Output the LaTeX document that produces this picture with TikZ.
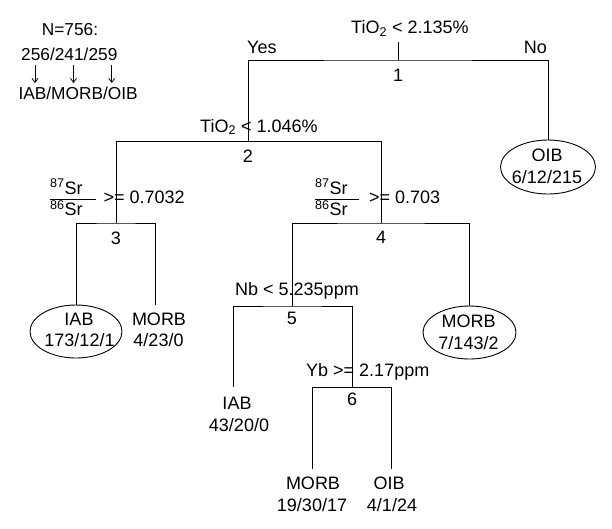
\documentclass[tikz,border=0pt]{standalone}
\usepackage{fontspec}
\setmainfont{Liberation Sans}
\usetikzlibrary{arrows.meta,shapes.geometric}
\begin{document}
\begin{tikzpicture}[x=1pt,y=-1pt,
  treeline/.style={line width=0.9pt, draw=black},
  lbl/.style={anchor=base, inner sep=0pt, font=\fontsize{18}{21.6}\selectfont},
  lblw/.style={lbl, anchor=base west},
  lble/.style={lbl, anchor=base east},
  leg/.style={lblw, font=\fontsize{17.3}{20}\selectfont},
  leafell/.style={ellipse, draw, line width=0.9pt, inner sep=0pt},
  legarrow/.style={line width=0.8pt, -{Straight Barb[length=4pt,width=6pt]}},
  fracbar/.style={line width=0.8pt}
]
\useasboundingbox (0,0) rectangle (612,528);

% legend
\node[leg] (N) at (41.7,35) {N=756:};
\node[leg] (cnt) at (21,60.7) {256/241/259};
\node[leg] (cls) at (18.3,99) {IAB/MORB/OIB};
\coordinate (a1s) at (35,65);   \coordinate (a1e) at (35,83);
\coordinate (a2s) at (73.5,65); \coordinate (a2e) at (73.5,83);
\coordinate (a3s) at (111.7,65);\coordinate (a3e) at (111.7,83);
\draw[legarrow] (a1s) -- (a1e);
\draw[legarrow] (a2s) -- (a2e);
\draw[legarrow] (a3s) -- (a3e);

% split points
\coordinate (s1) at (398,42);
\coordinate (j1) at (398,60);
\coordinate (j2) at (248,141.7);
\coordinate (j3) at (116,223);
\coordinate (j4) at (381,223);
\coordinate (j5) at (292,306);
\coordinate (j6) at (352,387);

% leaves
\node[leafell, minimum width=95pt, minimum height=54pt] (eOIB) at (548,167) {};
\node[leafell, minimum width=92pt, minimum height=53pt] (eIAB) at (76,331.5) {};
\node[leafell, minimum width=93pt, minimum height=53pt] (eMORB) at (469.5,332.5) {};
\coordinate (lMORB1) at (155,305);
\coordinate (lIAB2) at (233,387);
\coordinate (lMORB3) at (312,469);
\coordinate (lOIB3) at (391,469);

% tree lines
\draw[treeline] (s1) -- (j1);
\draw[treeline] (j2) |- (j1) -| (eOIB.north);
\draw[treeline] (j3) |- (j2) -| (j4);
\draw[treeline] (eIAB.north) |- (j3) -| (lMORB1);
\draw[treeline] (j5) |- (j4) -| (eMORB.north);
\draw[treeline] (lIAB2) |- (j5) -| (j6);
\draw[treeline] (lMORB3) |- (j6) -| (lOIB3);

% split labels
\node[lblw] (c1) at (351,33.5) {TiO\textsubscript{2} < 2.135\%};
\node[lblw] (yes) at (247,53) {Yes};
\node[lble] (no) at (547,53) {No};
\node[lbl] (n1) at (398,81.5) {1};

\node[lblw] (c2) at (200,132) {TiO\textsubscript{2} < 1.046\%};
\node[lbl] (n2) at (248,162) {2};

\node[lblw] (c3n) at (50,194) {\textsuperscript{87}Sr};
\node[lblw] (c3d) at (50,215.5) {\textsuperscript{86}Sr};
\draw[fracbar] (50,199) -- (96,199);
\node[lblw] (c3) at (103.3,203.8) {>= 0.7032};
\node[lbl] (n3) at (116,244) {3};

\node[lblw] (c4n) at (315,194) {\textsuperscript{87}Sr};
\node[lblw] (c4d) at (315,215.5) {\textsuperscript{86}Sr};
\draw[fracbar] (315,199) -- (359,199);
\node[lblw] (c4) at (369,203.5) {>= 0.703};
\node[lbl] (n4) at (381,243.5) {4};

\node[lblw] (c5) at (235,295) {Nb < 5.235ppm};
\node[lbl] (n5) at (292,324) {5};

\node[lblw] (c6) at (306,376) {Yb >= 2.17ppm};
\node[lbl] (n6) at (352,405) {6};

% leaf texts
\node[lbl] (tOIBa) at (547,161.7) {OIB};
\node[lbl] (tOIBb) at (547,183.5) {6/12/215};
\node[lbl] (tIABa) at (79,325) {IAB};
\node[lbl] (tIABb) at (79.5,346.5) {173/12/1};
\node[lbl] (tMORBa) at (159,325) {MORB};
\node[lbl] (tMORBb) at (158.5,346.5) {4/23/0};
\node[lbl] (tMORB2a) at (468.5,327) {MORB};
\node[lbl] (tMORB2b) at (468.5,349) {7/143/2};
\node[lbl] (tIAB2a) at (237,409) {IAB};
\node[lbl] (tIAB2b) at (239,431) {43/20/0};
\node[lbl] (tMORB3a) at (313,489) {MORB};
\node[lbl] (tMORB3b) at (312,511.5) {19/30/17};
\node[lbl] (tOIB3a) at (389,489) {OIB};
\node[lbl] (tOIB3b) at (392,511.5) {4/1/24};
\end{tikzpicture}
\end{document}
